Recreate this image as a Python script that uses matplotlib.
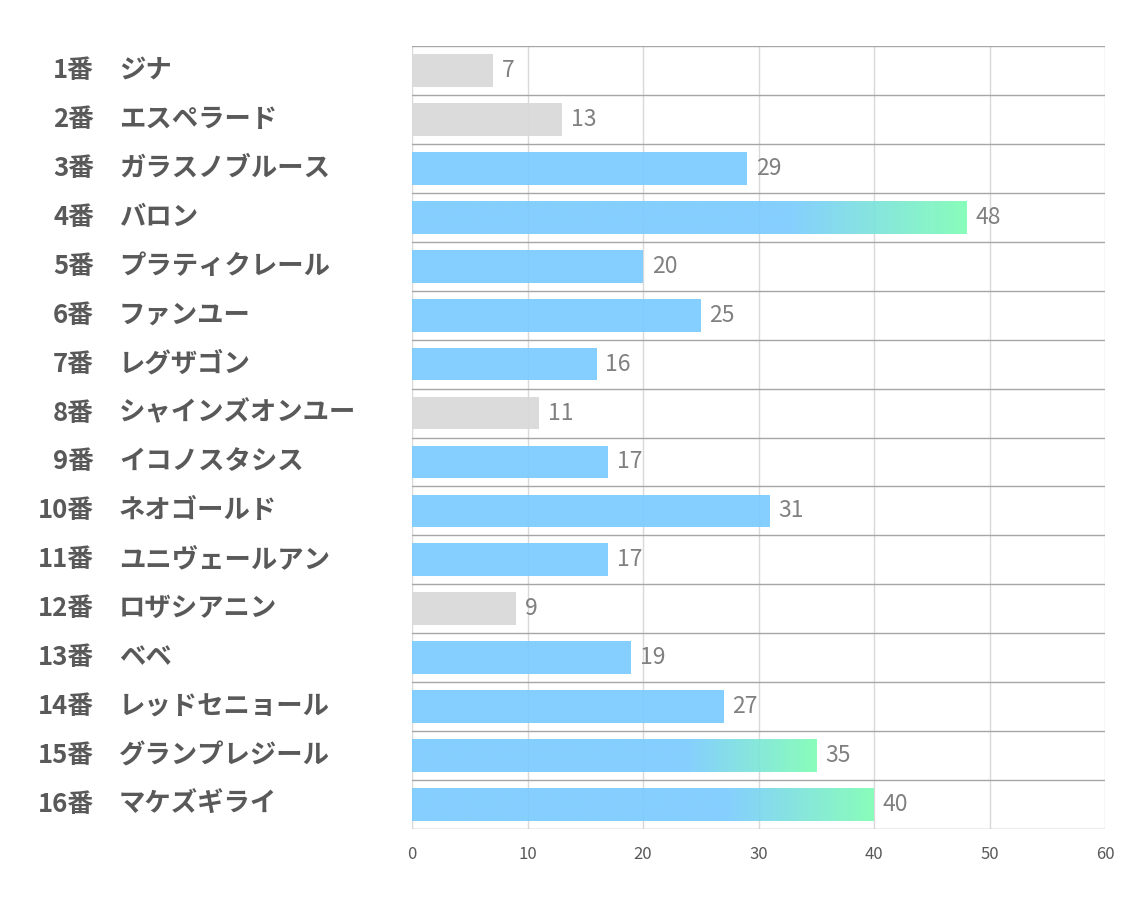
import matplotlib
matplotlib.use("Agg")
import matplotlib.pyplot as plt
import numpy as np
from matplotlib.transforms import blended_transform_factory
from matplotlib.colors import LinearSegmentedColormap

plt.rcParams['font.family'] = ['Noto Sans CJK JP', 'DejaVu Sans']

numbers = ["1番", "2番", "3番", "4番", "5番", "6番", "7番", "8番",
           "9番", "10番", "11番", "12番", "13番", "14番", "15番", "16番"]
names = ["ジナ", "エスペラード", "ガラスノブルース", "バロン", "プラティクレール",
         "ファンユー", "レグザゴン", "シャインズオンユー", "イコノスタシス", "ネオゴールド",
         "ユニヴェールアン", "ロザシアニン", "ベベ", "レッドセニョール", "グランプレジール",
         "マケズギライ"]
values = [7, 13, 29, 48, 20, 25, 16, 11, 17, 31, 17, 9, 19, 27, 35, 40]
# style group: 'low' = gray, 'mid' = blue, 'top' = blue->green gradient
groups = ["low", "low", "mid", "top", "mid", "mid", "mid", "low",
          "mid", "mid", "mid", "low", "mid", "mid", "top", "top"]
xticks = [0, 10, 20, 30, 40, 50, 60]

BLUE = "#7ACBFF"
GREEN = "#7EFDB5"
GRAY = "#D9D9D9"

W, H = 1134, 907
fig = plt.figure(figsize=(W / 100, H / 100), dpi=100)
ax = fig.add_axes([412 / W, 1 - 829 / H, (1105 - 412) / W, (829 - 46) / H])

n = len(values)
ypos = np.arange(n)
bh = 0.67
ax.set_xlim(0, 60)
ax.set_ylim(n - 0.5, -0.5)

# grid
for x in xticks:
    ax.axvline(x, color="#D9D9D9", lw=1.0, zorder=1)
for y in np.arange(-0.5, n, 1.0):
    ax.axhline(y, color="#A6A6A6", lw=1.0, zorder=1)

cmap = LinearSegmentedColormap.from_list(
    "bg", [(0.0, BLUE), (0.68, BLUE), (1.0, GREEN)], N=256)
grad = np.linspace(0, 1, 256).reshape(1, -1)

for y, v, g in zip(ypos, values, groups):
    if g == "low":
        ax.barh(y, v, height=bh, color=GRAY, zorder=2, alpha=0.95)
    elif g == "mid":
        ax.barh(y, v, height=bh, color=BLUE, zorder=2, alpha=0.92)
    else:
        ax.imshow(grad, cmap=cmap, aspect="auto", interpolation="bilinear",
                  extent=(0, v, y + bh / 2, y - bh / 2), zorder=2, alpha=0.92)
    ax.text(v + 0.75, y, str(v), va="center", ha="left", fontsize=16.5,
            color="#808080", zorder=3)

ax.set_xlim(0, 60)
ax.set_ylim(n - 0.5, -0.5)

for s in ax.spines.values():
    s.set_visible(False)
ax.set_yticks([])
ax.set_xticks(xticks)
ax.set_xticklabels([str(t) for t in xticks], fontsize=12, color="#595959")
ax.tick_params(axis="x", length=0, pad=12)

tr = blended_transform_factory(fig.transFigure, ax.transData)
for y, num, nm in zip(ypos, numbers, names):
    ax.text(94 / W, y, num, transform=tr, ha="right", va="center",
            fontsize=18.5, fontweight="bold", color="#595959")
    ax.text(119 / W, y, nm, transform=tr, ha="left", va="center",
            fontsize=19, fontweight="bold", color="#595959")

fig.savefig("out.png", dpi=100, facecolor="white")
